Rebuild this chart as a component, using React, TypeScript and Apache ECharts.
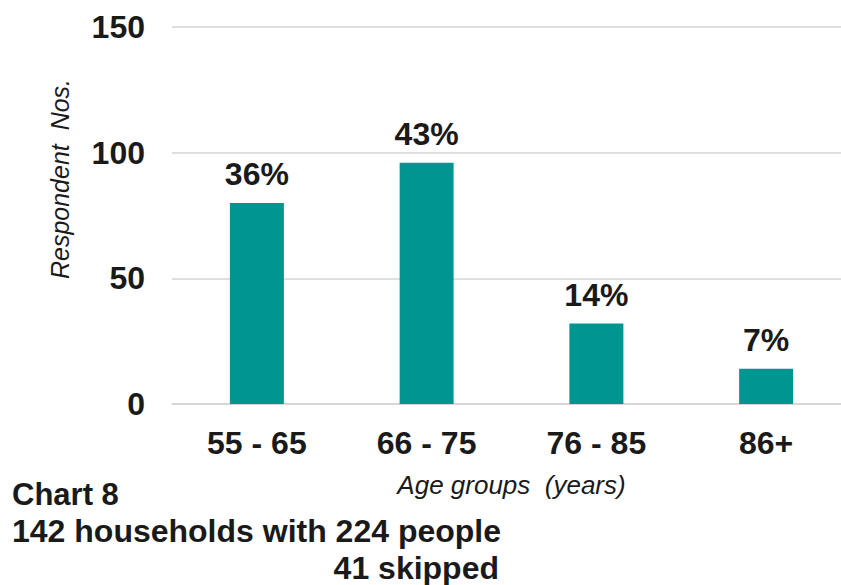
import React, { useEffect, useRef } from "react";
import * as echarts from "echarts";

const categories = ["55 - 65", "66 - 75", "76 - 85", "86+"];
const respondents = [80, 96, 32, 14];
const percentLabels = ["36%", "43%", "14%", "7%"];
const yTicks = { min: 0, max: 150, interval: 50 };
const footLines = ["Chart 8", "142 households with 224 people", "41 skipped"];

const FONT = "Liberation Sans, Arial, sans-serif";
const TEXT = "#1a1a1a";

export default function App() {
  const ref = useRef<HTMLDivElement>(null);
  useEffect(() => {
    if (!ref.current) return;
    const chart = echarts.init(ref.current, null, { renderer: "svg" });
    chart.setOption({
      animation: false,
      backgroundColor: "#ffffff",
      grid: { left: 172, right: 0, top: 27, bottom: 181, containLabel: false },
      xAxis: {
        type: "category",
        data: categories,
        name: "Age groups  (years)",
        nameLocation: "middle",
        nameGap: 68,
        nameTextStyle: { fontFamily: FONT, fontSize: 26, fontStyle: "italic", color: TEXT },
        axisLine: { show: true, lineStyle: { color: "#d4d4d4", width: 1.5 } },
        axisTick: { show: false },
        axisLabel: { fontFamily: FONT, fontSize: 32, fontWeight: "bold", color: TEXT, margin: 23 },
      },
      yAxis: {
        type: "value",
        min: yTicks.min,
        max: yTicks.max,
        interval: yTicks.interval,
        axisLine: { show: false },
        axisTick: { show: false },
        splitLine: { lineStyle: { color: "#d4d4d4", width: 1.5 } },
        axisLabel: { fontFamily: FONT, fontSize: 32, fontWeight: "bold", color: TEXT, margin: 27 },
      },
      series: [
        {
          type: "bar",
          data: respondents,
          barWidth: 54,
          itemStyle: { color: "#009591" },
          label: {
            show: true,
            position: "top",
            distance: 13,
            fontFamily: FONT,
            fontSize: 32,
            fontWeight: "bold",
            color: TEXT,
            formatter: (p: any) => percentLabels[p.dataIndex],
          },
        },
      ],
      graphic: [
        {
          type: "text",
          x: 60,
          y: 179,
          rotation: Math.PI / 2,
          style: {
            text: "Respondent  Nos.",
            fontFamily: FONT,
            fontSize: 25,
            fontStyle: "italic",
            fill: TEXT,
            align: "center",
            verticalAlign: "middle",
          },
        },
        {
          type: "text",
          x: 12,
          y: 494,
          style: { text: footLines[0], fontFamily: FONT, fontSize: 31, fontWeight: "bold", fill: TEXT, verticalAlign: "middle" },
        },
        {
          type: "text",
          x: 12,
          y: 531,
          style: { text: footLines[1], fontFamily: FONT, fontSize: 32, fontWeight: "bold", fill: TEXT, verticalAlign: "middle" },
        },
        {
          type: "text",
          x: 499,
          y: 568,
          style: { text: footLines[2], fontFamily: FONT, fontSize: 32, fontWeight: "bold", fill: TEXT, align: "right", verticalAlign: "middle" },
        },
      ],
    });
    return () => chart.dispose();
  }, []);
  return (
    <div
      ref={ref}
      style={{ position: "fixed", left: 0, top: 0, width: 851, height: 585 }}
    />
  );
}
